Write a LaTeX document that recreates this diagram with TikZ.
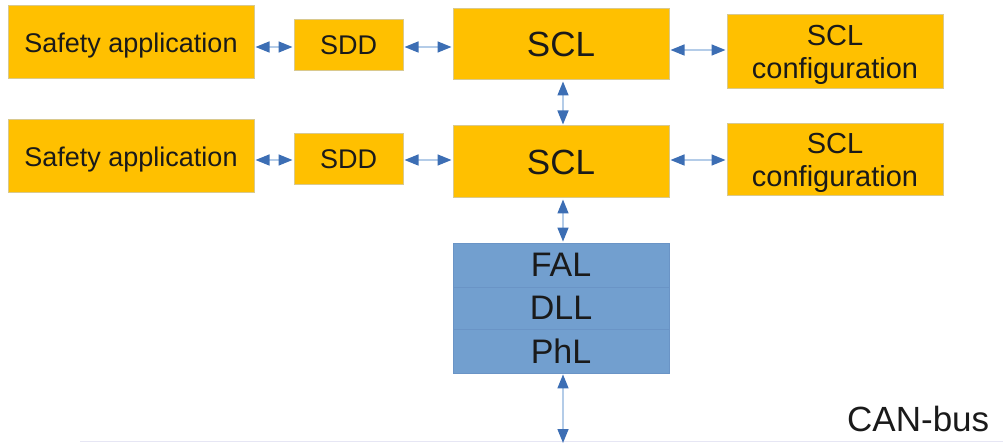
\documentclass[tikz,border=0pt]{standalone}
\usepackage{fontspec}
\setmainfont{Liberation Sans}
\usetikzlibrary{arrows.meta}
\definecolor{boxyellow}{HTML}{FFC000}
\definecolor{boxedge}{HTML}{D9C98E}
\definecolor{layerblue}{HTML}{729FCF}
\definecolor{layeredge}{HTML}{6A94C6}
\definecolor{tipblue}{HTML}{3C6EB4}
\definecolor{shaftblue}{HTML}{B4CCE8}
\definecolor{busline}{HTML}{E6E6F4}
\definecolor{ink}{HTML}{1A1A1A}
\tikzset{
  ybox/.style={draw=boxedge, line width=1pt, fill=boxyellow, inner sep=0pt,
    text=ink, align=center},
  layer/.style={draw=layeredge, line width=0.8pt, fill=layerblue, inner sep=0pt,
    minimum width=216pt, text=ink, font=\fontsize{34}{38}\selectfont},
  link/.style={draw=shaftblue, line width=1.5pt, shorten <=1pt, shorten >=1pt,
    {Triangle[color=tipblue,length=14pt,width=11pt]}-{Triangle[color=tipblue,length=14pt,width=11pt]}},
}
\begin{document}
\begin{tikzpicture}[x=1pt,y=-1pt]
\useasboundingbox (0,0) rectangle (1008,443);

% application side
\node[ybox, minimum width=246pt, minimum height=73pt, text depth=0pt,
  font=\fontsize{27}{31}\selectfont]
  (app1) at (131,42.5) {Safety application};
\node[ybox, minimum width=246pt, minimum height=73pt, text depth=0pt,
  font=\fontsize{27}{31}\selectfont]
  (app2) at (131,156.5) {Safety application};
\node[ybox, minimum width=109pt, minimum height=51pt, font=\fontsize{27}{31}\selectfont]
  (sdd1) at (348.5,45.5) {SDD};
\node[ybox, minimum width=109pt, minimum height=51pt, font=\fontsize{27}{31}\selectfont]
  (sdd2) at (348.5,159.5) {SDD};

% safety communication layers
\node[ybox, minimum width=216pt, minimum height=71pt, font=\fontsize{35}{39}\selectfont]
  (scl1) at (561,44.5) {SCL};
\node[ybox, minimum width=216pt, minimum height=72pt, font=\fontsize{35}{39}\selectfont]
  (scl2) at (561,162) {SCL};

% configuration blocks
\node[ybox, minimum width=216pt, minimum height=74pt, text depth=0pt,
  font=\fontsize{29}{33}\selectfont]
  (cfg1) at (835,52) {SCL\\configuration};
\node[ybox, minimum width=216pt, minimum height=72pt, text depth=0pt,
  font=\fontsize{29}{33}\selectfont]
  (cfg2) at (835,160) {SCL\\configuration};

% fieldbus stack
\node[layer, minimum height=44pt] (fal) at (561,265) {FAL};
\node[layer, minimum height=42pt] (dll) at (561,308) {DLL};
\node[layer, minimum height=44pt] (phl) at (561,351) {PhL};

% bus
\coordinate (busL) at (80,441.5);
\coordinate (busR) at (1003,441.5);
\draw[busline, line width=1.5pt] (busL) -- (busR);
\coordinate (tap) at (563,443);
\node[anchor=base west, text=ink, font=\fontsize{35}{39}\selectfont, inner sep=0pt]
  (can) at (847,431) {CAN-bus};

% horizontal links
\draw[link] (app1.east |- 0,47) -- (sdd1.west |- 0,47);
\draw[link] (sdd1.east |- 0,47) -- (scl1.west |- 0,47);
\draw[link] (scl1.east |- 0,50) -- (cfg1.west |- 0,50);
\draw[link] (app2.east |- 0,160) -- (sdd2.west |- 0,160);
\draw[link] (sdd2.east |- 0,160) -- (scl2.west |- 0,160);
\draw[link] (scl2.east |- 0,160) -- (cfg2.west |- 0,160);

% vertical links
\draw[link] (scl1.south -| tap) -- (scl2.north -| tap);
\draw[link] (scl2.south -| tap) -- (fal.north -| tap);
\draw[link, shorten >=0pt] (phl.south -| tap) -- (tap);
\end{tikzpicture}
\end{document}
